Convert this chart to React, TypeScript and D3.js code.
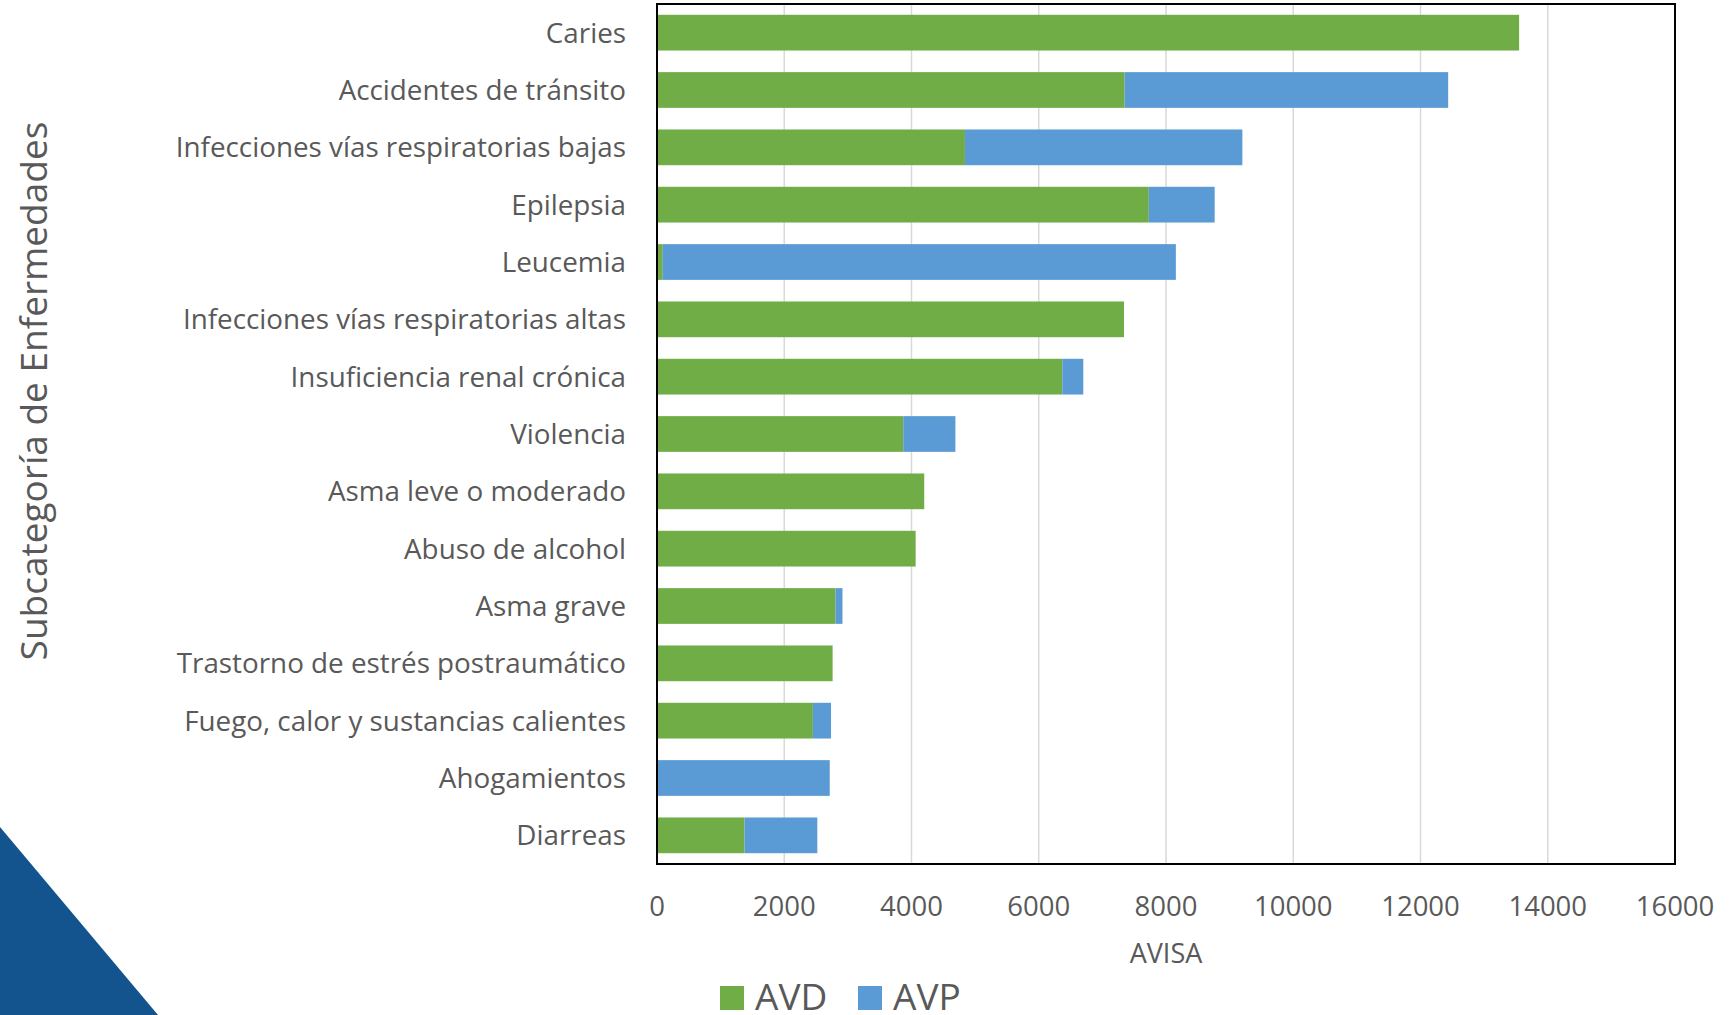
import React from "react";
import * as d3 from "d3";

const categories = [
  "Caries",
  "Accidentes de tránsito",
  "Infecciones vías respiratorias bajas",
  "Epilepsia",
  "Leucemia",
  "Infecciones vías respiratorias altas",
  "Insuficiencia renal crónica",
  "Violencia",
  "Asma leve o moderado",
  "Abuso de alcohol",
  "Asma grave",
  "Trastorno de estrés postraumático",
  "Fuego, calor y sustancias calientes",
  "Ahogamientos",
  "Diarreas",
];

const avd = [13550, 7350, 4840, 7730, 90, 7340, 6370, 3870, 4200, 4065, 2805, 2760, 2450, 0, 1375];
const avp = [0, 5085, 4360, 1035, 8065, 0, 330, 820, 0, 0, 110, 0, 285, 2715, 1145];

const seriesKeys = ["AVD", "AVP"];
const seriesColors = ["#70AD47", "#5B9BD5"];
const xTicks = [0, 2000, 4000, 6000, 8000, 10000, 12000, 14000, 16000];
const xTitle = "AVISA";
const yTitle = "Subcategoría de Enfermedades";

const W = 1734;
const H = 1015;
const FONT = "'Open Sans', 'Noto Sans', sans-serif";
const TEXT = "#595959";

export default function App() {
  const left = 657;
  const right = 1675;
  const top = 4;
  const bottom = 864;

  const x = d3.scaleLinear().domain([0, 16000]).range([left, right]);
  const y = d3
    .scaleBand<string>()
    .domain(categories)
    .range([top, bottom])
    .paddingInner(0.377)
    .paddingOuter(0.1885);

  const rows = categories.map((c, i) => ({ cat: c, AVD: avd[i], AVP: avp[i] }));
  const stacked = d3.stack<any>().keys(seriesKeys)(rows);

  return (
    <svg
      width={W}
      height={H}
      style={{ position: "absolute", left: 0, top: 0, background: "#fff" }}
      fontFamily={FONT}
    >
      <rect x={0} y={0} width={W} height={H} fill="#fff" />
      {/* decorative corner */}
      <polygon points={`0,827 158,1015 0,1015`} fill="#13548F" />

      {/* gridlines */}
      {xTicks.map((t) => (
        <line
          key={"g" + t}
          x1={x(t)}
          x2={x(t)}
          y1={top}
          y2={bottom}
          stroke="#D9D9D9"
          strokeWidth={1.5}
        />
      ))}

      {/* bars */}
      {stacked.map((s, si) => (
        <g key={s.key} fill={seriesColors[si]}>
          {s.map((d, i) => {
            const w = x(d[1]) - x(d[0]);
            if (w <= 0) return null;
            return (
              <rect
                key={i}
                x={x(d[0])}
                y={y(categories[i])}
                width={w}
                height={y.bandwidth()}
              />
            );
          })}
        </g>
      ))}

      {/* plot border */}
      <rect
        x={left}
        y={top}
        width={right - left}
        height={bottom - top}
        fill="none"
        stroke="#000"
        strokeWidth={2}
      />

      {/* category labels */}
      {categories.map((c) => (
        <text
          key={c}
          x={left - 31}
          y={(y(c) as number) + y.bandwidth() / 2 - 1}
          textAnchor="end"
          dominantBaseline="central"
          fontSize={27.8}
          fill={TEXT}
        >
          {c}
        </text>
      ))}

      {/* x tick labels */}
      {xTicks.map((t) => (
        <text
          key={"t" + t}
          x={x(t)}
          y={905}
          textAnchor="middle"
          dominantBaseline="central"
          fontSize={27.5}
          fill={TEXT}
        >
          {t}
        </text>
      ))}

      {/* axis titles */}
      <text
        x={(left + right) / 2}
        y={952}
        textAnchor="middle"
        dominantBaseline="central"
        fontSize={27}
        fill={TEXT}
      >
        {xTitle}
      </text>
      <text
        transform={`translate(32,391) rotate(-90)`}
        textAnchor="middle"
        dominantBaseline="central"
        fontSize={37}
        fill={TEXT}
      >
        {yTitle}
      </text>

      {/* legend */}
      {seriesKeys.map((k, i) => {
        const lx = [720, 858][i];
        return (
          <g key={k}>
            <rect x={lx} y={986} width={24} height={24} fill={seriesColors[i]} />
            <text x={lx + 35} y={1010} fontSize={37} fill={TEXT}>
              {k}
            </text>
          </g>
        );
      })}
    </svg>
  );
}
